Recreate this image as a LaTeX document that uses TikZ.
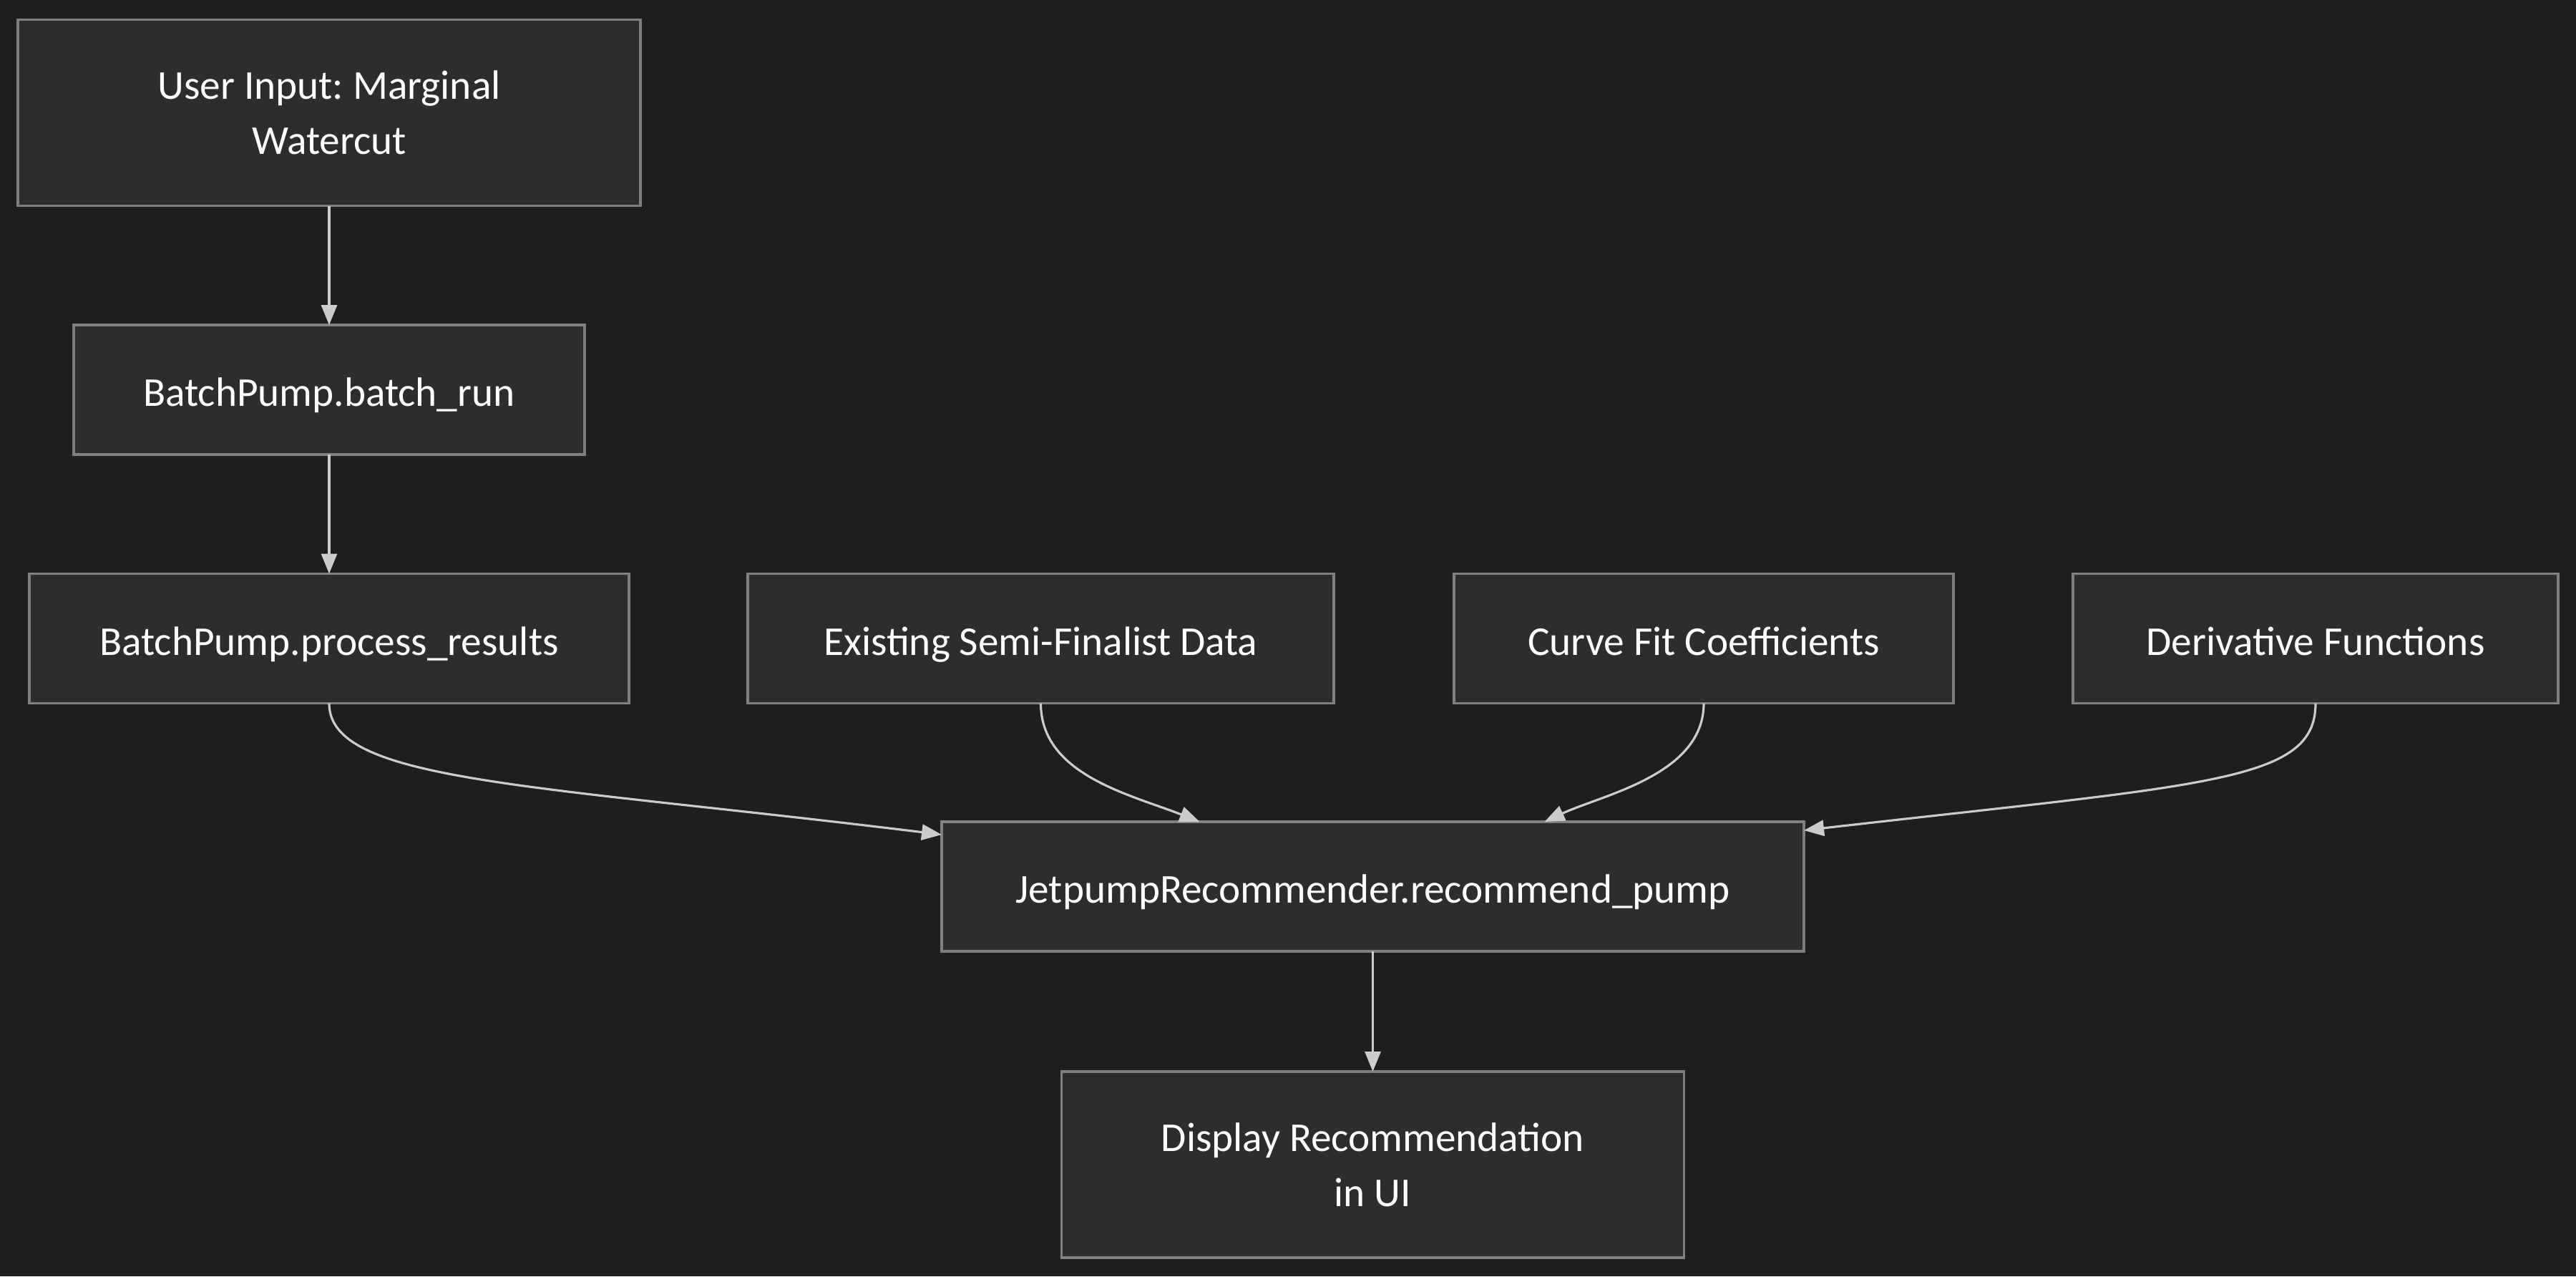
\documentclass[tikz,border=0pt]{standalone}
\usepackage{fontspec}
\setmainfont{Carlito}
\frenchspacing
\usetikzlibrary{positioning,arrows.meta}
\definecolor{mybg}{RGB}{30,30,30}
\definecolor{myfill}{RGB}{45,45,45}
\definecolor{myborder}{RGB}{128,128,128}
\definecolor{myarrow}{RGB}{204,204,204}

\begin{document}
\begin{tikzpicture}[
    outer sep=0pt,
    stepbox/.style={draw=myborder, line width=0.9pt, fill=myfill, align=center,
                    font={\fontsize{16.3}{22}\selectfont\color{white}},
                    minimum width=#1, minimum height=1.81cm, inner sep=0pt,
                    text height=0.57cm, text depth=0.11cm},
    stepbox/.default=8cm,
    tallbox/.style={stepbox=#1, minimum height=2.6cm, text height=, text depth=},
    link/.style={draw=myarrow, line width=0.9pt, -{Triangle[length=0.28cm,width=0.22cm]}},]

    \fill[mybg] (0,0) rectangle (36,-17.83);

    \node[tallbox=8.70cm] (input)   at (4.60,-1.575)   {User Input: Marginal\\Watercut};
    \node[stepbox=7.14cm] (batchrun) at (4.60,-5.445)  {BatchPump.batch\_run};
    \node[stepbox=8.38cm] (process) at (4.60,-8.92)    {BatchPump.process\_results};
    \node[stepbox=8.19cm] (existing) at (14.545,-8.92) {Existing Semi-Finalist Data};
    \node[stepbox=6.98cm] (curvefit) at (23.81,-8.92)  {Curve Fit Coefficients};
    \node[stepbox=6.78cm] (deriv)   at (32.36,-8.92)   {Derivative Functions};
    \node[stepbox=12.05cm] (recommend) at (19.185,-12.385) {JetpumpRecommender.recommend\_pump};
    \node[tallbox=8.70cm, below=1.68cm of recommend] (display) {Display Recommendation\\in UI};

    \draw[link] (input) -- (batchrun);
    \draw[link] (batchrun) -- (process);
    \draw[link] (process.south) .. controls +(0,-1.1) and (7.4,-10.95) .. ([yshift=-0.18cm]recommend.north west);
    \draw[link] (existing.south) .. controls +(0,-1.0) and (15.8,-11.1) .. ([xshift=-2.42cm]recommend.north);
    \draw[link] (curvefit.south) .. controls +(0,-1.0) and (22.4,-11.1) .. ([xshift=2.40cm]recommend.north);
    \draw[link] (deriv.south) .. controls +(0,-1.1) and (30.9,-10.95) .. ([yshift=-0.12cm]recommend.north east);
    \draw[link] (recommend) -- (display);

\end{tikzpicture}
\end{document}
